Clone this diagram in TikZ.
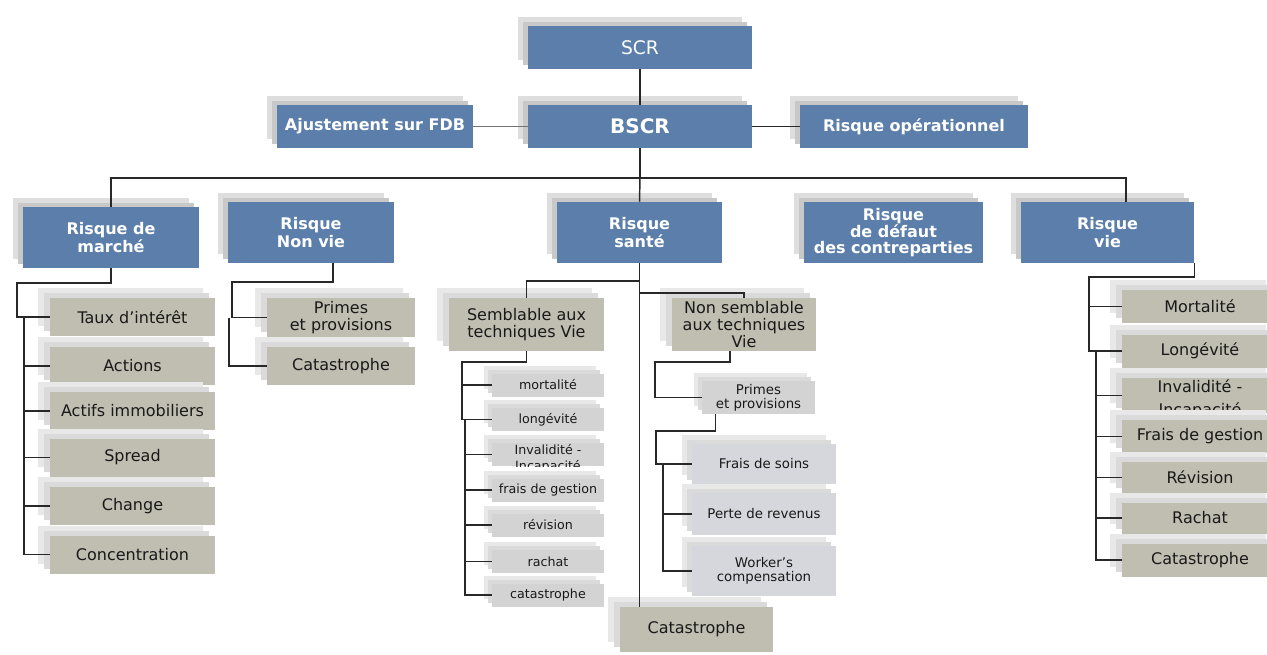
\documentclass[tikz,border=0pt]{standalone}
\usepackage{fontspec}
\setmainfont{DejaVu Sans}
\usetikzlibrary{shadows,calc}
\definecolor{boxblue}{RGB}{91,127,170}
\definecolor{boxbeige}{RGB}{192,189,177}
\definecolor{boxgrey}{RGB}{211,211,211}
\definecolor{boxsoin}{RGB}{214,215,220}
\definecolor{shlight}{RGB}{222,222,222}
\definecolor{shmid}{RGB}{200,200,200}
\definecolor{shlightb}{RGB}{232,232,232}
\definecolor{shmidb}{RGB}{218,218,218}
\definecolor{linecol}{RGB}{40,40,40}
\begin{document}
\begin{tikzpicture}[x=0.75pt,y=-0.75pt,
  sz/.style 2 args={minimum width=#1*0.75pt, minimum height=#2*0.75pt},
  base/.style={rectangle, inner sep=1pt, align=center},
  catbox/.style={base, fill=boxblue, text=white,
    font=\bfseries\fontsize{12}{13}\selectfont,
    general shadow={shadow xshift=-7.5pt, shadow yshift=6.75pt, fill=shlight},
    general shadow={shadow xshift=-3.75pt, shadow yshift=3pt, fill=shmid}},
  subbox/.style={base, fill=boxbeige, text=black!90,
    font=\fontsize{12}{12.5}\selectfont,
    general shadow={shadow xshift=-9pt, shadow yshift=7.5pt, fill=shlightb},
    general shadow={shadow xshift=-4.5pt, shadow yshift=3.75pt, fill=shmidb}},
  smallbox/.style={base, fill=boxgrey, text=black!90,
    font=\fontsize{9.5}{10}\selectfont,
    general shadow={shadow xshift=-6pt, shadow yshift=6pt, fill=shlightb},
    general shadow={shadow xshift=-3pt, shadow yshift=3pt, fill=shmidb}},
  soinbox/.style={base, fill=boxsoin, text=black!90,
    font=\fontsize{10}{10.5}\selectfont,
    general shadow={shadow xshift=-7.5pt, shadow yshift=6.75pt, fill=shlightb},
    general shadow={shadow xshift=-3.75pt, shadow yshift=3pt, fill=shmidb}},
  cliptext/.style={anchor=base, inner sep=0pt, text=black!90},
  link/.style={draw=linecol, line width=1.1pt},
  softlink/.style={draw=black!55, line width=1.1pt}]
\useasboundingbox (0,0) rectangle (1267,654);
\clip (0,0) rectangle (1267,654);

% top level
\node[catbox, sz={224}{43}, font=\fontsize{14}{15}\selectfont] (scr) at (640,47.5) {SCR};
\node[catbox, sz={224}{43}, font=\bfseries\fontsize{15}{16}\selectfont] (bscr) at (640,126.5) {BSCR};
\node[catbox, sz={196}{43}] (ajust) at (375,126.5) {Ajustement sur FDB};
\node[catbox, sz={228}{43}] (riskop) at (914,126.5) {Risque opérationnel};

% risk modules
\node[catbox, sz={176}{61}] (marche) at (111,237.5) {Risque de\\marché};
\node[catbox, sz={166}{61}] (nonvie) at (311,232.5) {Risque\\Non vie};
\node[catbox, sz={165}{61}] (sante) at (639.5,232.5) {Risque\\santé};
\node[catbox, sz={179}{61}, font=\bfseries\fontsize{12}{11.7}\selectfont] (defaut) at (893.5,232.5) {Risque\\de défaut\\des contreparties};
\node[catbox, sz={173}{61}] (vie) at (1107.5,232.5) {Risque\\vie};

% market sub-modules
\node[subbox, sz={165}{38}] (taux) at (132.5,317) {Taux d’intérêt};
\node[subbox, sz={165}{38}] (actions) at (132.5,366) {Actions};
\node[subbox, sz={165}{38}] (actifs) at (132.5,411) {Actifs immobiliers};
\node[subbox, sz={165}{38}] (spread) at (132.5,457.5) {Spread};
\node[subbox, sz={165}{38}] (change) at (132.5,506) {Change};
\node[subbox, sz={165}{38}] (conc) at (132.5,554.5) {Concentration};

% non-life sub-modules
\node[subbox, sz={148}{39}] (primes) at (341,317.5) {Primes\\et provisions};
\node[subbox, sz={148}{38}] (catnv) at (341,366) {Catastrophe};

% health sub-modules
\node[subbox, sz={155}{53}] (sv) at (526.5,324.5) {Semblable aux\\techniques Vie};
\node[subbox, sz={144}{53}] (nsv) at (744,324.5) {Non semblable\\aux techniques\\Vie};

\node[smallbox, sz={112}{23}] (sm1) at (548,385) {mortalité};
\node[smallbox, sz={112}{23}] (sm2) at (548,419.5) {longévité};
\node[smallbox, sz={112}{23}] (sm3) at (548,454.5) {};
\begin{scope}
  \clip (sm3.south west) rectangle (sm3.north east);
  \node[cliptext, font=\fontsize{9.5}{10}\selectfont] at (548,454) {Invalidité -};
  \node[cliptext, font=\fontsize{9.5}{10}\selectfont] at (548,470) {Incapacité};
\end{scope}
\node[smallbox, sz={112}{23}] (sm4) at (548,490) {frais de gestion};
\node[smallbox, sz={112}{23}] (sm5) at (548,525) {révision};
\node[smallbox, sz={112}{23}] (sm6) at (548,561.5) {rachat};
\node[smallbox, sz={112}{23}] (sm7) at (548,595) {catastrophe};

\node[smallbox, sz={113}{33}, font=\fontsize{10}{10.5}\selectfont] (nprimes) at (758.5,397.5) {Primes\\et provisions};
\node[soinbox, sz={144}{40}] (frais) at (764,464) {Frais de soins};
\node[soinbox, sz={144}{42}] (perte) at (764,514) {Perte de revenus};
\node[soinbox, sz={144}{50}] (worker) at (764,571) {Worker’s\\compensation};

\node[subbox, sz={153}{45}] (scat) at (696.5,629.5) {Catastrophe};

% life sub-modules
\node[subbox, sz={156}{33}] (vm1) at (1200,306.5) {Mortalité};
\node[subbox, sz={156}{33}] (vm2) at (1200,351) {Longévité};
\node[subbox, sz={156}{35}] (vm3) at (1200,395.5) {};
\begin{scope}
  \clip (vm3.south west) rectangle (vm3.north east);
  \node[cliptext, font=\fontsize{12}{13}\selectfont] at (1200,392) {Invalidité -};
  \node[cliptext, font=\fontsize{12}{13}\selectfont] at (1200,415) {Incapacité};
\end{scope}
\node[subbox, sz={156}{33}] (vm4) at (1200,436.5) {Frais de gestion};
\node[subbox, sz={156}{31}] (vm5) at (1200,477.5) {Révision};
\node[subbox, sz={156}{31}] (vm6) at (1200,518) {Rachat};
\node[subbox, sz={156}{33}] (vm7) at (1200,560) {Catastrophe};

% connectors: top level
\draw[link] (scr) -- (bscr);
\draw[softlink] (ajust) -- (bscr);
\draw[link] (bscr) -- (riskop);
\coordinate (bus) at (640,178);
\coordinate (vieIn) at (1126,202);
\draw[link] (bscr.south) -- (bus);
\draw[link] (marche.north) -- (marche.north |- bus) -- (vieIn |- bus) -- (vieIn);
\draw[link] (bus) -- (sante.north);

% connectors: market
\coordinate (m1) at (17,283);
\coordinate (m2) at (24,317);
\draw[link] (marche.south) |- (m1) |- (taux.west);
\draw[link] (m2) |- (conc.west);
\foreach \n in {actions,actifs,spread,change}
  \draw[link] (m2 |- \n.west) -- (\n.west);

% connectors: non-life
\coordinate (n1) at (232,282);
\coordinate (n2) at (229,317.5);
\draw[link] ($(nonvie.south)+(22,0)$) |- (n1) |- (primes.west);
\draw[link] (n2) |- (catnv.west);

% connectors: health
\coordinate (s1) at (639.5,281);
\coordinate (s2) at (639.5,293);
\draw[link] (sante.south) -- (sante.south |- scat.north);
\draw[link] (s1) -| (sv.north);
\draw[link] (s2) -| (nsv.north);

\coordinate (a1) at (462,362);
\coordinate (a2) at (465,419.5);
\draw[link] (sv.south) |- (a1) |- (sm1.west);
\draw[link] (a1 |- sm1.west) |- (sm2.west);
\draw[link] (a2) |- (sm7.west);
\foreach \n in {sm3,sm4,sm5,sm6}
  \draw[link] (a2 |- \n.west) -- (\n.west);

\coordinate (b1) at (655,362);
\coordinate (b2) at (656,431);
\coordinate (b3) at (663,464);
\draw[link] ($(nsv.south)+(-14,0)$) |- (b1) |- (nprimes.west);
\draw[link] ($(nprimes.south)+(-43,0)$) |- (b2) |- (frais.west);
\draw[link] (b3) |- (worker.west);
\draw[link] (b3 |- perte.west) -- (perte.west);

% connectors: life
\coordinate (v1) at (1089,277);
\coordinate (v2) at (1096,351);
\draw[link] (vie.south east) |- (v1) |- (vm1.west);
\draw[link] (v1 |- vm1.west) |- (vm2.west);
\draw[link] (v2) |- (vm7.west);
\foreach \n in {vm3,vm4,vm5,vm6}
  \draw[link] (v2 |- \n.west) -- (\n.west);
\end{tikzpicture}
\end{document}
